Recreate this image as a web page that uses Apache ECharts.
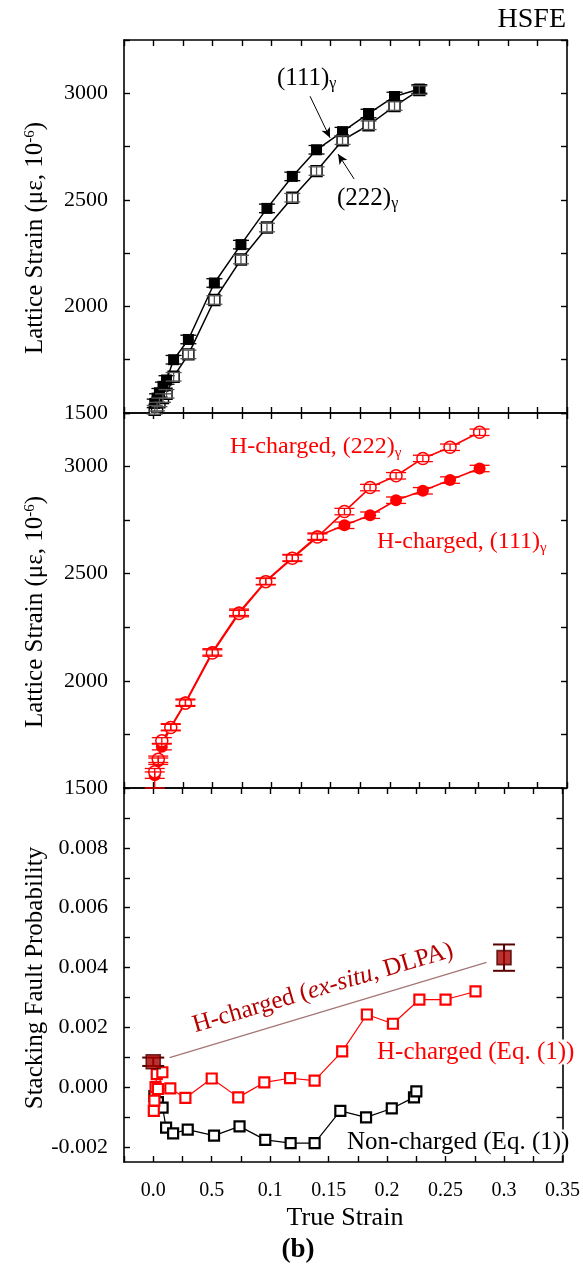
<!DOCTYPE html>
<html>
<head>
<meta charset="utf-8">
<script src="https://cdn.jsdelivr.net/npm/echarts@6/dist/echarts.min.js"></script>
<style>
  html, body { margin: 0; padding: 0; background: #fff; }
  #chart { width: 583px; height: 1268px; }
</style>
</head>
<body>
<div id="chart"></div>
<script>
// ---- Non-charged lattice strain (in-situ), top panel ----
const strainNC = [0.001, 0.003, 0.005, 0.008, 0.011, 0.017, 0.0295, 0.0515, 0.074, 0.096, 0.1175, 0.138, 0.160, 0.182, 0.204, 0.225];
const nc111 = [1545, 1570, 1595, 1625, 1655, 1750, 1845, 2110, 2290, 2460, 2610, 2735, 2820, 2905, 2985, 3020];
const nc222 = [1515, 1530, 1550, 1570, 1590, 1670, 1775, 2030, 2220, 2370, 2510, 2635, 2780, 2850, 2940, 3015];
const ncErr = [20, 20, 20, 20, 20, 20, 20, 20, 20, 20, 20, 20, 20, 20, 20, 20];

// ---- H-charged lattice strain, middle panel ----
const strainH = [0.001, 0.004, 0.007, 0.0146, 0.027, 0.0498, 0.0724, 0.095, 0.1175, 0.1387, 0.1616, 0.1833, 0.2053, 0.228, 0.251, 0.276];
const h111 = [1560, 1625, 1693, 1785, 1900, 2135, 2320, 2465, 2575, 2675, 2726, 2773, 2843, 2887, 2937, 2991];
const h222 = [1576, 1634, 1720, 1782, 1896, 2130, 2314, 2463, 2572, 2671, 2790, 2902, 2957, 3038, 3090, 3160];
const hErrLo222 = [76, 15, 15, 15, 15, 15, 15, 15, 15, 15, 15, 15, 15, 15, 15, 15];
const hErr = [15, 15, 15, 15, 15, 15, 15, 15, 15, 15, 15, 15, 15, 15, 15, 15];

// ---- Stacking fault probability, bottom panel ([true strain, SFP]) ----
const sfpNonCharged = [
  [0.001, -0.0003], [0.004, -0.0005], [0.008, -0.00068], [0.011, -0.00135], [0.017, -0.00154],
  [0.0295, -0.00142], [0.052, -0.00162], [0.0738, -0.00131], [0.0958, -0.00176], [0.1175, -0.00187],
  [0.138, -0.00187], [0.160, -0.00079], [0.182, -0.00101], [0.204, -0.00071], [0.223, -0.00034], [0.225, -0.00014]
];
const sfpHCharged = [
  [0.0005, -0.00079], [0.001, -0.00045], [0.002, 0.0], [0.003, 0.00044], [0.0078, 0.0005], [0.004, -0.00006],
  [0.0146, -0.00004], [0.0275, -0.00036], [0.050, 0.00029], [0.0727, -0.00034], [0.095, 0.00016],
  [0.117, 0.0003], [0.138, 0.00022], [0.1616, 0.0012], [0.1827, 0.00243], [0.205, 0.00212],
  [0.2276, 0.00293], [0.250, 0.00293], [0.2756, 0.0032]
];
// ex-situ DLPA values: [true strain, SFP, error]
const sfpDLPA = [[0.0, 0.00085, 0.00014], [0.30, 0.00433, 0.00044]];
const dlpaGuide = [[0.014, 0.00099], [0.285, 0.00417]];

// ---- annotation arrows in the top panel ([x, y] start -> end) ----
const arrowSegments = [
  [[0.1325, 2986], [0.1494, 2791]],
  [[0.1698, 2598], [0.1562, 2715]]
];

// ---- tick labels ----
const xTickLabels = { 0: '0.0', 50: '0.5', 100: '0.1', 150: '0.15', 200: '0.2', 250: '0.25', 300: '0.3', 350: '0.35' };
const sfpLabelValues = [-0.002, 0, 0.002, 0.004, 0.006, 0.008];
const sfpTickValues = [-0.002, -0.001, 0, 0.001, 0.002, 0.003, 0.004, 0.005, 0.006, 0.007, 0.008, 0.009];

const FONT = '"Liberation Serif", "Times New Roman", serif';
const RED = '#ff0000';

const zip = (xs, ys) => xs.map((x, i) => [x, ys[i]]);
const withErr = (xs, ys, lo, hi) => xs.map((x, i) => [x, ys[i], lo[i], hi[i]]);

function errorBars(color, half, width) {
  return function (params, api) {
    const x = api.value(0), y = api.value(1), lo = api.value(2), hi = api.value(3);
    const a = api.coord([x, y - lo]);
    const b = api.coord([x, y + hi]);
    const style = { stroke: color, lineWidth: width, fill: null };
    return {
      type: 'group',
      children: [
        { type: 'line', shape: { x1: a[0], y1: a[1], x2: b[0], y2: b[1] }, style },
        { type: 'line', shape: { x1: a[0] - half, y1: a[1], x2: a[0] + half, y2: a[1] }, style },
        { type: 'line', shape: { x1: b[0] - half, y1: b[1], x2: b[0] + half, y2: b[1] }, style }
      ]
    };
  };
}

const axisLine = { onZero: false, lineStyle: { color: '#000', width: 1.6 } };
const axisTick = { inside: true, length: 6, lineStyle: { color: '#000', width: 1.4 } };

function xAxisPair(gridIndex, labelled) {
  const base = {
    type: 'value', gridIndex, min: -0.025, max: 0.35, interval: 0.025,
    axisLine, axisTick, splitLine: { show: false }
  };
  return [
    Object.assign({}, base, {
      position: 'bottom',
      axisLabel: labelled ? {
        show: true, margin: 19, fontFamily: FONT, fontSize: 20, color: '#000',
        formatter: v => xTickLabels[Math.round(v * 1000)] || ''
      } : { show: false }
    }),
    Object.assign({}, base, { position: 'top', axisLabel: { show: false } })
  ];
}

function strainYAxisPair(gridIndex) {
  const base = {
    type: 'value', gridIndex, min: 1500, max: 3250, interval: 250,
    axisLine, axisTick, splitLine: { show: false }
  };
  return [
    Object.assign({}, base, {
      position: 'left',
      axisLabel: {
        margin: 16, fontFamily: FONT, fontSize: 22, color: '#000',
        formatter: v => (v % 500 === 0 && v < 3250) ? String(v) : ''
      }
    }),
    Object.assign({}, base, { position: 'right', axisLabel: { show: false } })
  ];
}

function sfpYAxisPair(gridIndex) {
  const base = {
    type: 'value', gridIndex, min: -0.0025, max: 0.010,
    axisLine, splitLine: { show: false }
  };
  const tick = Object.assign({}, axisTick, { customValues: sfpTickValues });
  return [
    Object.assign({}, base, {
      position: 'left', axisTick: tick,
      axisLabel: {
        margin: 16, fontFamily: FONT, fontSize: 22, color: '#000',
        customValues: sfpLabelValues, formatter: v => v.toFixed(3)
      }
    }),
    Object.assign({}, base, { position: 'right', axisTick: tick, axisLabel: { show: false } })
  ];
}

const chart = echarts.init(document.getElementById('chart'), null, { renderer: 'canvas' });

const textStyle = (size, color) => ({ font: `${size}px ${FONT}`, fill: color });

chart.setOption({
  animation: false,
  backgroundColor: '#fff',
  grid: [
    { left: 124, right: 16, top: 40, height: 373 },
    { left: 124, right: 16, top: 413, height: 375 },
    { left: 124, right: 16, top: 788, height: 374 }
  ],
  xAxis: [].concat(xAxisPair(0, false), xAxisPair(1, false), xAxisPair(2, true)),
  yAxis: [].concat(strainYAxisPair(0), strainYAxisPair(1), sfpYAxisPair(2)),
  series: [
    // top panel: non-charged (111) and (222)
    {
      type: 'line', xAxisIndex: 0, yAxisIndex: 0, data: zip(strainNC, nc111),
      symbol: 'rect', symbolSize: 11, itemStyle: { color: '#000' },
      lineStyle: { color: '#000', width: 1.5 }, z: 3,
      markLine: {
        silent: true, symbol: ['none', 'arrow'], symbolSize: [7, 10],
        label: { show: false }, lineStyle: { color: '#000', width: 1, type: 'solid' },
        data: arrowSegments.map(s => [{ coord: s[0] }, { coord: s[1] }])
      }
    },
    {
      type: 'line', xAxisIndex: 0, yAxisIndex: 0, data: zip(strainNC, nc222),
      symbol: 'rect', symbolSize: 11,
      itemStyle: { color: '#fff', borderColor: '#000', borderWidth: 1.4 },
      lineStyle: { color: '#000', width: 1.5 }, z: 2
    },
    {
      type: 'custom', xAxisIndex: 0, yAxisIndex: 0, z: 5,
      data: withErr(strainNC, nc111, ncErr, ncErr), renderItem: errorBars('#000', 8, 1.3)
    },
    {
      type: 'custom', xAxisIndex: 0, yAxisIndex: 0, z: 5,
      data: withErr(strainNC, nc222, ncErr, ncErr), renderItem: errorBars('#555', 8, 1.3)
    },
    // middle panel: H-charged (111) and (222)
    {
      type: 'line', xAxisIndex: 2, yAxisIndex: 2, data: zip(strainH, h111),
      symbol: 'circle', symbolSize: 12, itemStyle: { color: RED },
      lineStyle: { color: RED, width: 1.6 }, z: 2
    },
    {
      type: 'line', xAxisIndex: 2, yAxisIndex: 2, data: zip(strainH, h222),
      symbol: 'circle', symbolSize: 12,
      itemStyle: { color: '#fff', borderColor: RED, borderWidth: 1.5 },
      lineStyle: { color: RED, width: 1.6 }, z: 3
    },
    {
      type: 'custom', xAxisIndex: 2, yAxisIndex: 2, z: 5,
      data: withErr(strainH, h111, hErr, hErr), renderItem: errorBars(RED, 10, 1.3)
    },
    {
      type: 'custom', xAxisIndex: 2, yAxisIndex: 2, z: 5,
      data: withErr(strainH, h222, hErrLo222, hErr), renderItem: errorBars(RED, 10, 1.3)
    },
    // bottom panel: stacking fault probability
    {
      type: 'line', xAxisIndex: 4, yAxisIndex: 4, data: sfpNonCharged,
      symbol: 'rect', symbolSize: 10,
      itemStyle: { color: '#fff', borderColor: '#000', borderWidth: 2.2 },
      lineStyle: { color: '#000', width: 1.2 }, z: 2
    },
    {
      type: 'line', xAxisIndex: 4, yAxisIndex: 4, data: sfpHCharged,
      symbol: 'rect', symbolSize: 10,
      itemStyle: { color: '#fff', borderColor: RED, borderWidth: 2.2 },
      lineStyle: { color: RED, width: 1.2 }, z: 3
    },
    {
      type: 'line', xAxisIndex: 4, yAxisIndex: 4, data: dlpaGuide,
      symbol: 'none', lineStyle: { color: '#a57575', width: 1.2 }, z: 1
    },
    {
      type: 'custom', xAxisIndex: 4, yAxisIndex: 4, z: 6,
      data: sfpDLPA.map(d => [d[0], d[1], d[2], d[2]]), renderItem: errorBars('#5a0000', 11, 2)
    },
    {
      type: 'scatter', xAxisIndex: 4, yAxisIndex: 4, data: sfpDLPA.map(d => [d[0], d[1]]),
      symbol: 'rect', symbolSize: 14,
      itemStyle: { color: '#a80000', borderColor: '#500000', borderWidth: 1.6 }, z: 7
    }
  ],
  graphic: [
    { type: 'text', x: 566, y: 20, style: Object.assign(textStyle(28, '#000'), { text: 'HSFE', textAlign: 'right', textVerticalAlign: 'middle' }) },
    {
      type: 'text', x: 35, y: 238, rotation: Math.PI / 2,
      style: Object.assign(textStyle(25, '#000'), {
        text: 'Lattice Strain (με, 10{sup|-6})', textAlign: 'center', textVerticalAlign: 'middle',
        rich: { sup: { fontSize: 15, fontFamily: FONT, fill: '#000', padding: [0, 0, 10, 0] } }
      })
    },
    {
      type: 'text', x: 35, y: 612, rotation: Math.PI / 2,
      style: Object.assign(textStyle(25, '#000'), {
        text: 'Lattice Strain (με, 10{sup|-6})', textAlign: 'center', textVerticalAlign: 'middle',
        rich: { sup: { fontSize: 15, fontFamily: FONT, fill: '#000', padding: [0, 0, 10, 0] } }
      })
    },
    {
      type: 'text', x: 35, y: 978, rotation: Math.PI / 2,
      style: Object.assign(textStyle(25, '#000'), { text: 'Stacking Fault Probability', textAlign: 'center', textVerticalAlign: 'middle' })
    },
    { type: 'text', x: 345, y: 1218, style: Object.assign(textStyle(26, '#000'), { text: 'True Strain', textAlign: 'center', textVerticalAlign: 'middle' }) },
    { type: 'text', x: 298, y: 1250, style: Object.assign({ font: `bold 27px ${FONT}`, fill: '#000' }, { text: '(b)', textAlign: 'center', textVerticalAlign: 'middle' }) },
    {
      type: 'text', x: 277, y: 78,
      style: Object.assign(textStyle(25, '#000'), {
        text: '(111){sub|γ}', textAlign: 'left', textVerticalAlign: 'middle',
        rich: { sub: { fontSize: 16, fontFamily: FONT, fill: '#000', padding: [12, 0, 0, 0] } }
      })
    },
    {
      type: 'text', x: 337, y: 198,
      style: Object.assign(textStyle(25, '#000'), {
        text: '(222){sub|γ}', textAlign: 'left', textVerticalAlign: 'middle',
        rich: { sub: { fontSize: 16, fontFamily: FONT, fill: '#000', padding: [12, 0, 0, 0] } }
      })
    },
    {
      type: 'text', x: 230, y: 447,
      style: Object.assign(textStyle(24, RED), {
        text: 'H-charged, (222){sub|γ}', textAlign: 'left', textVerticalAlign: 'middle',
        rich: { sub: { fontSize: 15, fontFamily: FONT, fill: RED, padding: [12, 0, 0, 0] } }
      })
    },
    {
      type: 'text', x: 377, y: 542,
      style: Object.assign(textStyle(24, RED), {
        text: 'H-charged, (111){sub|γ}', textAlign: 'left', textVerticalAlign: 'middle',
        rich: { sub: { fontSize: 15, fontFamily: FONT, fill: RED, padding: [12, 0, 0, 0] } }
      })
    },
    {
      type: 'text', x: 323, y: 988, rotation: 0.285,
      style: Object.assign(textStyle(25, '#b40000'), {
        text: 'H-charged ({it|ex-situ}, DLPA)', textAlign: 'center', textVerticalAlign: 'middle',
        rich: { it: { fontStyle: 'italic', fontSize: 25, fontFamily: FONT, fill: '#b40000' } }
      })
    },
    {
      type: 'text', x: 375, y: 1052, z: 10,
      style: Object.assign(textStyle(25, RED), {
        text: 'H-charged (Eq. (1))', textAlign: 'left', textVerticalAlign: 'middle',
        backgroundColor: '#fff', padding: [0, 2, 0, 2]
      })
    },
    {
      type: 'text', x: 345, y: 1142, z: 10,
      style: Object.assign(textStyle(25, '#000'), {
        text: 'Non-charged (Eq. (1))', textAlign: 'left', textVerticalAlign: 'middle',
        backgroundColor: '#fff', padding: [0, 2, 0, 2]
      })
    }
  ]
});
</script>
</body>
</html>
